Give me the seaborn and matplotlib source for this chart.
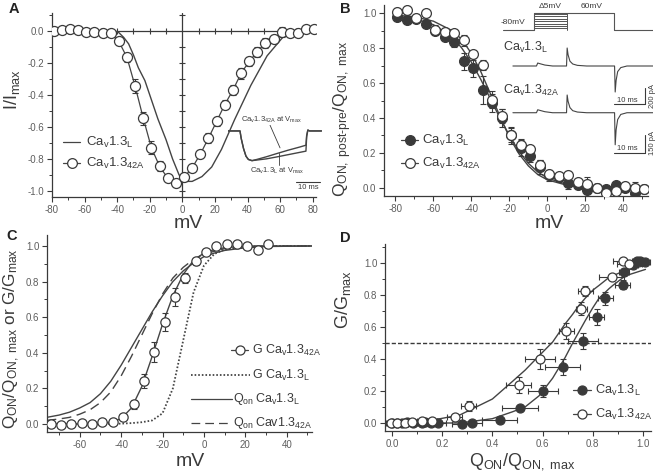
import matplotlib
matplotlib.use("Agg")
import matplotlib.pyplot as plt
import seaborn as sns
from matplotlib.ticker import MultipleLocator, FormatStrFormatter
from matplotlib.lines import Line2D

# ---------------- data ----------------
# Panel A: I/Imax vs mV
a_v = [-79, -74, -69, -64, -59, -54, -49, -44, -39, -34, -29, -24, -19, -14, -9, -4,
       1, 6, 11, 16, 21, 26, 31, 36, 41, 46, 51, 56, 61, 66, 71, 76, 81]
a_i42 = [0.0, 0.005, 0.01, 0.005, -0.005, -0.005, -0.01, -0.015, -0.065, -0.165, -0.345,
         -0.545, -0.73, -0.845, -0.92, -0.95, -0.915, -0.855, -0.77, -0.67, -0.565, -0.46,
         -0.37, -0.265, -0.19, -0.13, -0.075, -0.05, -0.005, -0.015, -0.01, 0.015, 0.01]
a_i42_err = [0.01, 0.01, 0.01, 0.01, 0.01, 0.01, 0.01, 0.01, 0.02, 0.03, 0.045, 0.04, 0.04,
             0.03, 0.015, 0.01, 0.02, 0.025, 0.025, 0.03, 0.03, 0.03, 0.03, 0.035, 0.03, 0.03,
             0.03, 0.025, 0.03, 0.02, 0.01, 0.01, 0.01]
a_fit_v = [-80, -42, -39, -36, -33, -30, -27, -23, -19, -15, -10, -6, -2, 2, 6, 12, 18, 24,
           32, 42, 52, 62, 72, 82]
a_fit_L = [0.0, 0.0, -0.01, -0.04, -0.08, -0.15, -0.23, -0.31, -0.43, -0.55, -0.68, -0.80,
           -0.90, -0.94, -0.94, -0.91, -0.85, -0.74, -0.555, -0.34, -0.155, -0.035, 0.0, 0.01]
# Panel A inset: current traces (ms, normalised)
ta = [0, 5, 5.5, 6.5, 7.5, 8.5, 10, 12, 16, 20, 25, 30, 32.5, 32.8, 33.3, 34, 39]
ia_L = [0, 0, -0.25, -0.6, -0.85, -0.96, -1.0, -0.98, -0.94, -0.88, -0.80, -0.72, -0.68,
        -0.2, 0.03, 0, 0]
ia_42 = [0, 0, -0.25, -0.6, -0.85, -0.96, -1.0, -0.96, -0.87, -0.77, -0.65, -0.54, -0.48,
         -0.15, 0.03, 0, 0]

# Panel B: Q_ON post-pre / Q_ON max vs mV
b_v = [-79, -74, -69, -64, -59, -54, -49, -44, -39, -34, -29, -24, -19, -14, -9, -4,
       1, 6, 11, 16, 21, 26, 31, 36, 41, 46, 51]
b_L = [0.98, 0.96, 0.965, 0.94, 0.9, 0.865, 0.835, 0.725, 0.685, 0.56, 0.485, 0.40, 0.30,
       0.23, 0.18, 0.12, 0.07, 0.06, 0.025, 0.015, -0.015, 0.0, -0.01, 0.015, 0.0, -0.03, -0.01]
b_L_err = [0.015, 0.015, 0.015, 0.02, 0.02, 0.02, 0.03, 0.05, 0.05, 0.08, 0.05, 0.05, 0.04,
           0.05, 0.03, 0.04, 0.03, 0.02, 0.03, 0.02, 0.02, 0.015, 0.015, 0.015, 0.015, 0.02, 0.015]
b_42 = [1.01, 1.02, 0.975, 1.0, 0.905, 0.895, 0.885, 0.845, 0.765, 0.705, 0.505, 0.41, 0.30,
        0.245, 0.22, 0.13, 0.08, 0.065, 0.075, 0.03, 0.02, 0.0, -0.03, -0.02, 0.01, 0.0, -0.01]
b_42_err = [0.02, 0.02, 0.02, 0.02, 0.03, 0.02, 0.02, 0.03, 0.02, 0.03, 0.05, 0.04, 0.05,
            0.03, 0.02, 0.03, 0.02, 0.02, 0.02, 0.02, 0.04, 0.02, 0.015, 0.02, 0.02, 0.03, 0.02]
b_fit_v = [-80, -70, -60, -50, -45, -40, -35, -30, -25, -20, -15, -10, -5, 0, 10, 20, 30, 50]
b_fit_L = [0.985, 0.97, 0.935, 0.865, 0.80, 0.72, 0.62, 0.51, 0.40, 0.30, 0.21, 0.14, 0.09,
           0.055, 0.02, 0.007, 0.002, 0.0]
b_fit_42 = [0.99, 0.98, 0.955, 0.90, 0.85, 0.77, 0.665, 0.54, 0.41, 0.29, 0.195, 0.125, 0.075,
            0.045, 0.015, 0.005, 0.001, 0.0]
# Panel B inset: protocol (ms, mV) and gating currents (ms, pA)
prot_t = [0, 10, 10, 35.8, 35.8, 48.4]
prot_v = [-80, -80, 60, 60, -80, -80]
pre_levels = [-67, -47, -27, -7, 12, 32, 52]
pre_t = [10, 20.6]
tr_t = [3.2, 10.8, 11.2, 12, 13.5, 16, 20.5, 20.7, 21.0, 21.6, 22.5, 24, 27, 36.0, 36.2,
        36.5, 37, 38, 40, 48.4]
tr_L = [0, 0, 37, 28, 12, 0, 0, 225, 140, 60, 25, 8, 0, 0, -325, -180, -70, -20, 0, 0]
tr_42 = [0, 0, 26, 20, 9, 0, 0, 156, 100, 45, 18, 6, 0, 0, -282, -150, -60, -15, 0, 0]

# Panel C: Q_ON/Q_ON,max or G/Gmax vs mV
c_v = [-74, -69, -64, -59, -54, -49, -44, -39, -34, -29, -24, -19, -14, -9, -4, 1, 6, 11,
       16, 21, 26, 31]
c_g42 = [0.0, -0.005, 0.0, 0.005, 0.0, 0.01, 0.01, 0.04, 0.11, 0.24, 0.405, 0.575, 0.715,
         0.82, 0.915, 0.965, 1.0, 1.01, 1.01, 1.0, 0.975, 1.01]
c_g42_err = [0.005, 0.005, 0.005, 0.005, 0.005, 0.005, 0.005, 0.01, 0.025, 0.04, 0.055,
             0.05, 0.05, 0.03, 0.02, 0.01, 0.01, 0.01, 0.01, 0.01, 0.01, 0.02]
c_fit_v = [-76, -70, -65, -60, -55, -50, -45, -40, -35, -30, -25, -20, -15, -10, -5, 0, 5,
           10, 20, 30, 52]
c_fit_g42 = [0.0, 0.0, 0.0, 0.0, 0.001, 0.003, 0.01, 0.03, 0.09, 0.21, 0.38, 0.56, 0.72,
             0.84, 0.92, 0.96, 0.98, 0.99, 1.0, 1.0, 1.0]
c_fit_gL = [0.0, 0.0, 0.0, 0.0, 0.0, 0.0, 0.001, 0.002, 0.005, 0.01, 0.02, 0.06, 0.2, 0.47,
            0.74, 0.89, 0.955, 0.98, 0.995, 1.0, 1.0]
c_fit_qL = [0.037, 0.05, 0.066, 0.09, 0.12, 0.17, 0.24, 0.33, 0.43, 0.53, 0.63, 0.72, 0.80,
            0.86, 0.905, 0.94, 0.96, 0.975, 0.99, 0.997, 1.0]
c_fit_q42 = [0.02, 0.028, 0.037, 0.055, 0.08, 0.12, 0.18, 0.27, 0.38, 0.50, 0.62, 0.73, 0.82,
             0.88, 0.925, 0.955, 0.97, 0.985, 0.995, 0.999, 1.0]

# Panel D: G/Gmax vs Q_ON/Q_ON,max
d_xL = [0.0, 0.02, 0.04, 0.06, 0.085, 0.12, 0.13, 0.155, 0.185, 0.28, 0.32, 0.43, 0.51, 0.60,
        0.68, 0.76, 0.815, 0.85, 0.92, 0.925, 0.96, 0.975, 0.99, 1.01]
d_yL = [0.0, 0.0, 0.0, 0.005, 0.0, 0.0, 0.005, 0.0, 0.0, -0.005, 0.0, 0.02, 0.095, 0.2, 0.35,
        0.515, 0.66, 0.78, 0.865, 0.945, 0.985, 1.015, 1.01, 1.005]
d_xL_err = [0.02, 0.02, 0.02, 0.02, 0.02, 0.02, 0.03, 0.03, 0.03, 0.04, 0.04, 0.07, 0.07, 0.06,
            0.07, 0.06, 0.03, 0.03, 0.03, 0.02, 0.02, 0.02, 0.02, 0.02]
d_yL_err = [0.005, 0.005, 0.005, 0.005, 0.005, 0.005, 0.005, 0.005, 0.005, 0.005, 0.005, 0.01,
            0.02, 0.04, 0.05, 0.05, 0.05, 0.04, 0.03, 0.02, 0.01, 0.01, 0.01, 0.01]
d_x42 = [-0.005, 0.02, 0.05, 0.08, 0.12, 0.16, 0.25, 0.305, 0.505, 0.59, 0.695, 0.755, 0.77,
         0.875, 0.92, 0.945]
d_y42 = [0.0, 0.0, 0.0, 0.005, 0.01, 0.01, 0.04, 0.105, 0.235, 0.40, 0.575, 0.715, 0.825,
         0.915, 1.01, 0.995]
d_x42_err = [0.02, 0.02, 0.02, 0.02, 0.02, 0.02, 0.03, 0.03, 0.05, 0.06, 0.03, 0.02, 0.03,
             0.05, 0.04, 0.05]
d_y42_err = [0.005, 0.005, 0.005, 0.005, 0.005, 0.005, 0.01, 0.03, 0.05, 0.06, 0.05, 0.04,
             0.03, 0.01, 0.01, 0.01]
d_fit_x = [0.0, 0.135, 0.27, 0.40, 0.48, 0.53, 0.586, 0.64, 0.69, 0.72, 0.745, 0.77, 0.80,
           0.825, 0.865, 0.88, 0.93, 1.01]
d_fit_42 = [0.0, 0.01, 0.05, 0.15, 0.26, 0.33, 0.42, 0.506, 0.62, 0.68, 0.735, 0.78, 0.83,
            0.86, 0.91, 0.92, 0.955, 0.985]
d_fit_L = [0.0, 0.0, 0.0, 0.027, 0.07, 0.10, 0.17, 0.28, 0.41, 0.50, 0.57, 0.64, 0.72, 0.78,
           0.84, 0.86, 0.92, 0.96]

# ---------------- style ----------------
sns.set_theme(style="ticks")
plt.rcParams.update({
    "font.family": ["Liberation Sans", "DejaVu Sans"],
    "mathtext.fontset": "custom",
    "mathtext.rm": "Liberation Sans",
    "mathtext.it": "Liberation Sans:italic",
    "mathtext.bf": "Liberation Sans:bold",
    "axes.unicode_minus": False,
})
INK = "#3a3a3a"
LINE = "#444444"
TICKC = "#5e5e5e"

W, H = 656, 472
fig = plt.figure(figsize=(W / 100, H / 100), dpi=100)
fig.patch.set_facecolor("white")


def add_ax(l, t, r, b):
    return fig.add_axes([l / W, 1 - b / H, (r - l) / W, (b - t) / H])


def style(ax, xmaj, xmin, ymaj, ymin, xfmt, yfmt):
    ax.set_facecolor("none")
    ax.grid(False)
    for s in ["top", "right"]:
        ax.spines[s].set_visible(False)
    for s in ["left", "bottom"]:
        ax.spines[s].set_color(INK)
        ax.spines[s].set_linewidth(0.9)
    ax.xaxis.set_major_locator(MultipleLocator(xmaj))
    ax.xaxis.set_minor_locator(MultipleLocator(xmin))
    ax.yaxis.set_major_locator(MultipleLocator(ymaj))
    ax.yaxis.set_minor_locator(MultipleLocator(ymin))
    ax.xaxis.set_major_formatter(FormatStrFormatter(xfmt))
    ax.yaxis.set_major_formatter(FormatStrFormatter(yfmt))
    ax.tick_params(which="major", direction="out", length=3.5, width=0.8, color=INK,
                   labelsize=7, labelcolor=TICKC, pad=2)
    ax.tick_params(which="minor", direction="out", length=2, width=0.7, color=INK)
    ax.set_xlabel("")
    ax.set_ylabel("")


def line(ax, x, y, **kw):
    sns.lineplot(x=x, y=y, ax=ax, sort=False, estimator=None, legend=False, **kw)


def points(ax, x, y, face, s=50, z=4):
    sns.scatterplot(x=x, y=y, ax=ax, s=s, color=face, edgecolor=INK, linewidth=0.9,
                    legend=False, zorder=z)


def ebar(ax, x, y, yerr=None, xerr=None):
    ax.errorbar(x, y, yerr=yerr, xerr=xerr, fmt="none", ecolor=INK, elinewidth=0.8,
                capsize=2.3, capthick=0.8, zorder=3)


# ---------------- Panel A ----------------
axA = add_ax(52, 13.4, 316, 197.4)
axA.set_xlim(-80, 82)
axA.set_ylim(-1.04, 0.11)
axA.axhline(0, color=INK, lw=0.9, xmax=0.99, zorder=1)
axA.axvline(0, color=INK, lw=0.9, zorder=1)
zx = [v for v in range(-70, 81, 10) if v != 0]
axA.plot(zx, [0] * len(zx), ls="none", marker="|", ms=4, mew=0.8, color=INK)
zy = [k / 10 for k in range(-10, 2) if k != 0]
axA.plot([0] * len(zy), zy, ls="none", marker="_", ms=4, mew=0.8, color=INK)
line(axA, a_fit_v, a_fit_L, color=LINE, linewidth=1.0)
line(axA, a_v, a_i42, color=LINE, linewidth=0.9)
ebar(axA, a_v, a_i42, yerr=a_i42_err)
points(axA, a_v, a_i42, "white", s=52)
style(axA, 20, 10, 0.2, 0.1, "%d", "%.1f")

# inset A traces
axAi = add_ax(228, 125, 322, 185)
axAi.set_xlim(0, 39.2)
axAi.set_ylim(-1.82, 0.2)
axAi.axis("off")
line(axAi, ta, ia_L, color=LINE, linewidth=1.0)
line(axAi, ta, ia_42, color=LINE, linewidth=1.0)
axAi.plot([28.3, 38.3], [-1.72, -1.72], color=INK, lw=0.8, clip_on=False)
axAi.text(33.3, -1.8, "10 ms", ha="center", va="top", fontsize=5.5, color=INK, clip_on=False)
axAi.text(18, 0.37, r"Ca$_\mathregular{v}$1.3$_\mathregular{42A}$ at V$_\mathregular{max}$",
          ha="center", va="center", fontsize=5.5, color=INK)
axAi.plot([17.5, 21.7], [0.2, -0.57], color=INK, lw=0.6)
axAi.text(20.5, -1.35, r"Ca$_\mathregular{v}$1.3$_\mathregular{L}$ at V$_\mathregular{max}$",
          ha="center", va="center", fontsize=5.5, color=INK)
axAi.plot([21.2, 21.2], [-1.14, -0.74], color=INK, lw=0.6)

# ---------------- Panel B ----------------
axB = add_ax(384, 4.6, 648, 196.4)
axB.set_xlim(-86, 53)
axB.set_ylim(-0.05, 1.05)
line(axB, b_fit_v, b_fit_L, color=LINE, linewidth=1.0)
line(axB, b_fit_v, b_fit_42, color=LINE, linewidth=1.0)
ebar(axB, b_v, b_L, yerr=b_L_err)
ebar(axB, b_v, b_42, yerr=b_42_err)
points(axB, b_v, b_L, INK, s=50)
points(axB, b_v, b_42, "white", s=50, z=5)
style(axB, 20, 10, 0.2, 0.1, "%d", "%.1f")

# inset B: protocol
axBp = add_ax(503, 4, 653, 34)
axBp.set_xlim(0, 48.4)
axBp.set_ylim(-113, 134)
axBp.axis("off")
line(axBp, prot_t, prot_v, color="#555555", linewidth=0.8)
for lv in pre_levels:
    axBp.plot(pre_t, [lv, lv], color="#555555", lw=0.7)
axBp.plot([pre_t[1], pre_t[1]], [-80, 60], color="#555555", lw=0.7)
# inset B: traces
axBt1 = add_ax(503, 40, 653, 106)
axBt1.set_xlim(0, 48.4)
axBt1.set_ylim(-500, 325)
axBt1.axis("off")
line(axBt1, tr_t, tr_L, color=LINE, linewidth=0.8)
axBt2 = add_ax(503, 90, 653, 155)
axBt2.set_xlim(0, 48.4)
axBt2.set_ylim(-372, 200)
axBt2.axis("off")
line(axBt2, tr_t, tr_42, color=LINE, linewidth=0.8)

# ---------------- Panel C ----------------
axC = add_ax(47, 235.3, 312, 432)
axC.set_xlim(-75.8, 52.2)
axC.set_ylim(-0.045, 1.06)
line(axC, c_fit_v, c_fit_qL, color=LINE, linewidth=1.0)
line(axC, c_fit_v, c_fit_q42, color=LINE, linewidth=1.0, dashes=(7, 4))
line(axC, c_fit_v, c_fit_gL, color=LINE, linewidth=1.3, dashes=(0.9, 1.1))
line(axC, c_fit_v, c_fit_g42, color=LINE, linewidth=1.0)
ebar(axC, c_v, c_g42, yerr=c_g42_err)
points(axC, c_v, c_g42, "white", s=45)
style(axC, 20, 10, 0.2, 0.1, "%d", "%.1f")

# ---------------- Panel D ----------------
axD = add_ax(385, 243.8, 651, 431)
axD.set_xlim(-0.028, 1.032)
axD.set_ylim(-0.05, 1.12)
axD.axhline(0.5, color=INK, lw=1.0, dashes=(3, 1.5), zorder=1)
line(axD, d_fit_x, d_fit_42, color=LINE, linewidth=1.0)
line(axD, d_fit_x, d_fit_L, color=LINE, linewidth=1.0)
ebar(axD, d_xL, d_yL, yerr=d_yL_err, xerr=d_xL_err)
ebar(axD, d_x42, d_y42, yerr=d_y42_err, xerr=d_x42_err)
points(axD, d_xL, d_yL, INK, s=42)
points(axD, d_x42, d_y42, "white", s=42, z=5)
style(axD, 0.2, 0.1, 0.2, 0.1, "%.1f", "%.1f")

# ---------------- overlay texts & legends ----------------
axO = fig.add_axes([0, 0, 1, 1])
axO.set_xlim(0, W)
axO.set_ylim(H, 0)
axO.axis("off")


def T(x, y, s, size, **kw):
    kw.setdefault("color", INK)
    axO.text(x, y, s, fontsize=size, **kw)


sub = lambda a, b: a + r"$_\mathregular{" + b + "}$"
L_lbl = r"Ca$_\mathregular{v}$1.3$_\mathregular{L}$"
A_lbl = r"Ca$_\mathregular{v}$1.3$_\mathregular{42A}$"

# panel letters
for ch, x, y in [("A", 14, 9), ("B", 345, 9), ("C", 12, 236), ("D", 345, 238)]:
    T(x, y, ch, 10.5, weight="bold", ha="center", va="center", color="#222222")

# axis labels
T(188, 224, "mV", 14, ha="center", va="center")
T(549, 224, "mV", 14, ha="center", va="center")
T(190, 461, "mV", 14, ha="center", va="center")
T(522, 462, r"Q$_\mathregular{ON}$/Q$_{\mathregular{ON,}\ \mathregular{max}}$", 13,
  ha="center", va="center")
T(12, 90, r"I/I$_\mathregular{max}$", 13, rotation=90, ha="center", va="center")
T(343, 119, r"Q$_{\mathregular{ON,}\ \mathregular{post}\text{-}\mathregular{pre}}$/Q$_{\mathregular{ON,}\ \mathregular{max}}$",
  12.5, rotation=90, ha="center", va="center")
T(12, 339, r"Q$_\mathregular{ON}$/Q$_{\mathregular{ON,}\ \mathregular{max}}$ or G/G$_\mathregular{max}$",
  12.3, rotation=90, ha="center", va="center")
T(343, 300, r"G/G$_\mathregular{max}$", 13, rotation=90, ha="center", va="center")


def handle(x0, x1, y, ls="-", marker=None, face="white", dashes=None, lw=0.9, ms=7):
    ln = Line2D([x0, x1], [y, y], color=LINE, lw=lw, linestyle=ls)
    if dashes is not None:
        ln.set_dashes(dashes)
    axO.add_line(ln)
    if marker:
        axO.add_line(Line2D([(x0 + x1) / 2], [y], marker=marker, ms=ms, mfc=face, mec=INK,
                            mew=0.9, ls="none"))


LF = 9.5
# legend A
handle(63, 80, 142)
T(86, 142, L_lbl, LF, va="center")
handle(63, 80, 163, marker="o")
T(86, 163, A_lbl, LF, va="center")
# legend B
handle(401, 418, 140, marker="o", face=INK)
T(422, 140, L_lbl, LF, va="center")
handle(401, 418, 163, marker="o")
T(422, 163, A_lbl, LF, va="center")
# legend D
handle(573, 591, 390, marker="o", face=INK, ms=6.5)
T(595, 390, L_lbl, 9.2, va="center")
handle(573, 591, 414, marker="o", ms=6.5)
T(595, 414, A_lbl, 9.2, va="center")
# legend C
CF = 9
handle(231, 248, 350, marker="o", ms=6.5)
T(252, 350, "G", CF, va="center")
T(265, 350, A_lbl, CF, va="center")
handle(191, 250, 375, dashes=(0.9, 1.1), lw=1.3)
T(252, 375, "G", CF, va="center")
T(265, 375, L_lbl, CF, va="center")
handle(191, 232, 399)
T(233, 399, sub("Q", "on"), CF, va="center")
T(255, 399, L_lbl, CF, va="center")
handle(191, 232, 423, dashes=(7, 4))
T(233, 423, sub("Q", "on"), CF, va="center")
T(255, 423, r"Cav1.3$_\mathregular{42A}$", CF, va="center")

# inset B texts
T(513, 23, "-80mV", 6, ha="center", va="center")
T(550, 7, "\u0394" + "5mV", 6, ha="center", va="center")
T(592, 7, "60mV", 6, ha="center", va="center")
T(503, 47, L_lbl, 9, va="center")
T(503, 90, A_lbl, 9, va="center")
T(627, 100, "10 ms", 5.5, ha="center", va="center")
T(627, 148, "10 ms", 5.5, ha="center", va="center")
T(652, 96, "200 pA", 5.5, rotation=90, ha="center", va="center")
T(652, 143, "150 pA", 5.5, rotation=90, ha="center", va="center")
axBt1.plot([35.8, 45.8], [-480, -480], color=INK, lw=0.8, clip_on=False)
axBt1.plot([45.8, 45.8], [-480, -280], color=INK, lw=0.8, clip_on=False)
axBt2.plot([35.8, 45.8], [-350, -350], color=INK, lw=0.8, clip_on=False)
axBt2.plot([45.8, 45.8], [-350, -200], color=INK, lw=0.8, clip_on=False)

fig.savefig("out.png", dpi=100, facecolor="white")
